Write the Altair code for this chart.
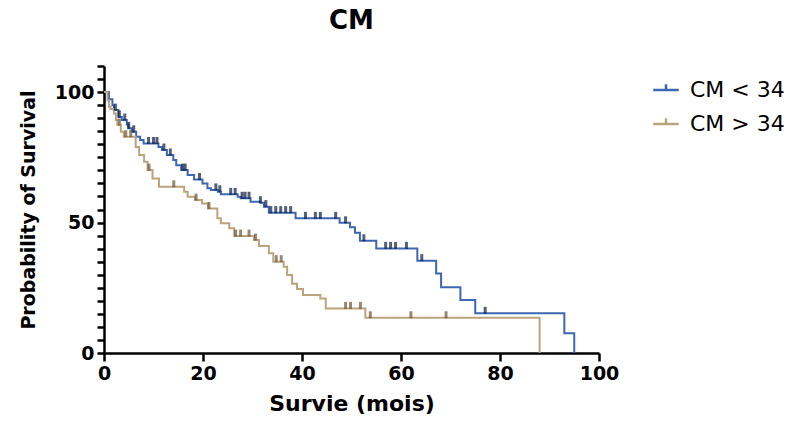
import altair as alt
import pandas as pd

groups = ["CM < 34", "CM > 34"]
colors = ["#3d67b3", "#bba47d"]
censor_colors = ["#0c1d42", "#6b5535"]

# CM < 34 : Kaplan-Meier steps (time in months, survival %)
blue_t = [0, 1.0, 1.7, 2.0, 2.9, 3.6, 4.6, 4.9, 5.6, 6.5, 7.3, 8.0, 11.0, 11.7, 12.7,
          14.0, 14.6, 15.6, 16.9, 18.2, 19.9, 20.9, 21.6, 23.0, 23.6, 27.0, 27.6, 29.6,
          31.6, 32.3, 33.3, 38.7, 47.6, 49.7, 50.7, 51.7, 55.0, 63.3, 67.1, 68.1, 72.0,
          75.0, 93.0, 95.0]
blue_s = [100, 97.3, 95.0, 93.1, 90.5, 89.3, 87.6, 86.1, 84.8, 82.9, 81.6, 80.3, 79.0,
          77.8, 75.9, 74.0, 72.0, 70.1, 68.2, 66.5, 65.0, 63.1, 62.5, 61.8, 60.8, 59.9,
          59.3, 58.0, 57.6, 56.1, 53.8, 51.6, 49.9, 48.2, 46.1, 43.0, 40.1, 35.4, 30.5,
          25.2, 20.3, 15.2, 7.6, 0]
blue_censor = [2.3, 3.1, 4.2, 5.0, 6.0, 9.0, 10.0, 10.7, 12.1, 13.4, 15.9, 16.4, 19.3,
               22.6, 23.4, 25.6, 26.5, 27.9, 28.5, 29.3, 31.6, 32.7, 33.7, 34.7, 35.7,
               36.7, 37.7, 40.7, 42.7, 43.7, 46.8, 48.8, 52.5, 56.9, 57.9, 58.9, 61.1,
               64.2, 77.0]

# CM > 34
brown_t = [0, 0.7, 1.0, 1.3, 2.0, 2.4, 2.7, 3.4, 4.0, 6.4, 7.1, 8.1, 8.8, 9.8, 11.1,
           16.2, 16.9, 18.4, 19.8, 21.0, 22.9, 23.6, 25.3, 26.3, 30.3, 31.3, 33.3, 34.2,
           36.3, 37.0, 38.0, 39.0, 40.2, 43.7, 44.8, 52.8, 88.0]
brown_s = [100, 96.9, 94.4, 93.5, 91.8, 89.3, 87.4, 84.8, 82.9, 79.0, 75.9, 73.3, 70.1,
           66.9, 63.7, 61.8, 59.9, 58.6, 57.3, 55.4, 51.6, 49.7, 47.8, 44.8, 43.3, 41.0,
           38.2, 35.0, 33.1, 29.9, 26.5, 24.5, 22.2, 20.9, 17.1, 13.5, 0]
brown_censor = [3.1, 4.4, 5.4, 9.1, 14.1, 18.6, 21.2, 26.6, 27.6, 29.3, 30.6, 34.8, 35.8,
                48.8, 49.8, 51.8, 53.8, 62.0, 69.1]

x_ticks = [0, 20, 40, 60, 80, 100]
y_ticks = list(range(0, 111, 5))


def step_value(ts, ss, t):
    v = ss[0]
    for ti, si in zip(ts, ss):
        if ti <= t:
            v = si
        else:
            break
    return v


lines = pd.DataFrame({
    "t": blue_t + brown_t,
    "s": blue_s + brown_s,
    "g": [groups[0]] * len(blue_t) + [groups[1]] * len(brown_t),
})
cens_b = pd.DataFrame({"t": blue_censor,
                       "s": [step_value(blue_t, blue_s, c) for c in blue_censor]})
cens_r = pd.DataFrame({"t": brown_censor,
                       "s": [step_value(brown_t, brown_s, c) for c in brown_censor]})

FONT = "DejaVu Sans"
axis_style = dict(domainColor="black", domainWidth=2.5, tickColor="black", tickWidth=2.5,
                  labelFont=FONT, labelFontWeight="bold", labelColor="black",
                  titleFont=FONT, titleFontWeight="bold", titleColor="black", grid=False,
                  labelOverlap=False, labelFlush=False, labelBound=False)

x_enc = alt.X("t:Q", scale=alt.Scale(domain=[0, 100], nice=False),
              axis=alt.Axis(values=x_ticks, title="Survie (mois)", titleFontSize=22,
                            labelFontSize=19, tickSize=8, labelPadding=3,
                            titlePadding=10, **axis_style))
y_enc = alt.Y("s:Q", scale=alt.Scale(domain=[0, 110], nice=False),
              axis=alt.Axis(values=y_ticks, title="Probability of Survival",
                            labelExpr="datum.value % 50 === 0 ? datum.label : ''",
                            titleFontSize=19, labelFontSize=19, tickSize=7,
                            labelPadding=3, titlePadding=16, **axis_style))

line = alt.Chart(lines).mark_line(interpolate="step-after", strokeWidth=2).encode(
    x=x_enc, y=y_enc,
    color=alt.Color("g:N", scale=alt.Scale(domain=groups, range=colors),
                    legend=alt.Legend(orient="none", legendX=548, legendY=10, title=None,
                                      symbolType="M-1,0L1,0M0,0L0,-0.45",
                                      symbolSize=650, symbolStrokeWidth=2.5,
                                      labelFontSize=22, labelFont=FONT,
                                      labelColor="black", rowPadding=9,
                                      labelOffset=10)),
    detail="g:N",
)

tick_b = alt.Chart(cens_b).mark_tick(orient="vertical", color=censor_colors[0], size=7,
                                     thickness=3, yOffset=-3).encode(x=x_enc, y=y_enc)
tick_r = alt.Chart(cens_r).mark_tick(orient="vertical", color=censor_colors[1], size=7,
                                     thickness=3, yOffset=-3).encode(x=x_enc, y=y_enc)

chart = alt.layer(line, tick_r, tick_b).properties(
    width=495, height=287,
    background="white",
    title=alt.TitleParams("CM", fontSize=26, font=FONT, fontWeight="bold",
                          anchor="middle", offset=23, color="black"),
    autosize=alt.AutoSizeParams(type="none"),
    padding={"left": 104, "top": 66, "right": 196, "bottom": 72},
).configure_view(stroke=None)

chart.save("out.html", embed_options={"renderer": "svg", "actions": False})
